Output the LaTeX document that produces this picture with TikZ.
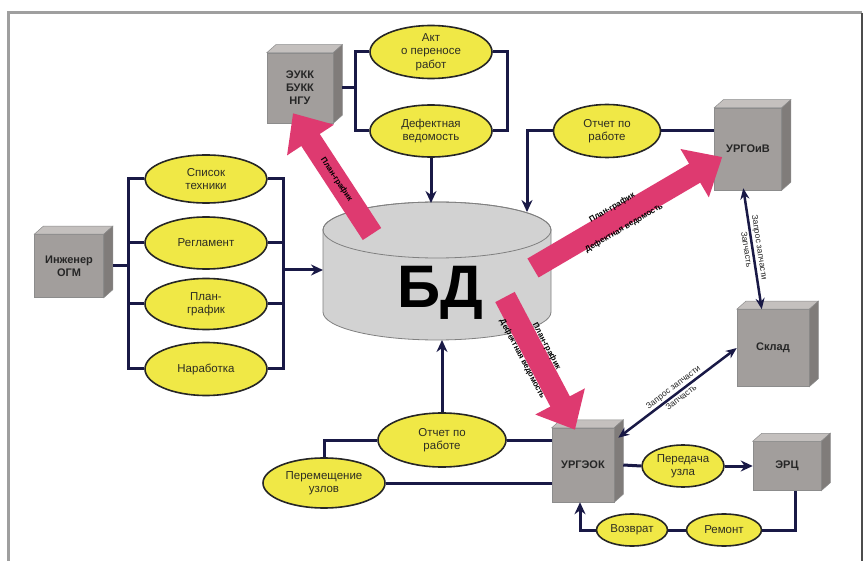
\documentclass[tikz,border=0pt]{standalone}
\usepackage{fontspec}
\setmainfont{Liberation Sans}
\usetikzlibrary{shapes.geometric,arrows.meta,calc}
\definecolor{ellfill}{RGB}{240,232,70}
\definecolor{navy}{RGB}{25,25,70}
\definecolor{boxfront}{RGB}{162,158,156}
\definecolor{boxtop}{RGB}{196,192,190}
\definecolor{boxside}{RGB}{128,124,122}
\definecolor{pinkA}{RGB}{222,58,112}
\definecolor{cylfill}{RGB}{210,210,210}
\definecolor{txt}{RGB}{45,45,35}
\newcommand\cubenode[6]{%
  \node[cube, minimum width=#4pt, minimum height=#5pt] (#1) at (#2,#3) {#6};
  \path[fill=boxtop, draw=black!45, line width=0.5pt] (#1.north west) -- ++(9,-8) -- ([shift={(9,-8)}]#1.north east) -- (#1.north east) -- cycle;
  \path[fill=boxside, draw=black!45, line width=0.5pt] (#1.north east) -- ++(9,-8) -- ([shift={(9,-8)}]#1.south east) -- (#1.south east) -- cycle;
}
\begin{document}
\begin{tikzpicture}[x=1pt,y=-1pt,
  ell/.style={ellipse, draw=black!85, line width=1.6pt, fill=ellfill, inner sep=0pt, align=center, font=\fontsize{11.5}{13.5}\selectfont, text=txt},
  cube/.style={rectangle, draw=black!45, line width=0.5pt, fill=boxfront, inner sep=0pt, align=center, font=\fontsize{11}{13}\selectfont\bfseries, text=black!85},
  conn/.style={draw=navy, line width=3pt, line join=miter},
  arr/.style={conn, -{Stealth[length=12pt,width=11pt]}},
  dbl/.style={draw=navy, line width=2.5pt, {Stealth[length=11pt,width=9pt]}-{Stealth[length=11pt,width=9pt]}},
  pinkarr/.style={draw=pinkA, line width=22pt, -{Triangle[length=32pt,width=54pt]}},
  plab/.style={font=\fontsize{8}{9}\selectfont\bfseries, sloped, inner sep=1pt, text=black},
  dlab/.style={font=\fontsize{8.5}{9}\selectfont, sloped, inner sep=1.5pt, text=black!85},
]
\useasboundingbox (0,0) rectangle (868,561);
\fill[white] (0,0) rectangle (868,561);
% frame
\draw[gray!75, line width=3pt] (8,561) -- (8,13) -- (862,13);
\draw[black!70, line width=2.5pt] (862,13) -- (862,561);

% cylinder
\path[fill=cylfill, draw=black!50, line width=0.8pt] (323,230) -- (323,312) arc[start angle=180,end angle=360,x radius=114pt,y radius=28pt] -- (551,230) arc[start angle=0,end angle=180,x radius=114pt,y radius=28pt] -- cycle;
\draw[black!50, line width=0.8pt] (437,230) ellipse[x radius=114pt, y radius=28pt];
\node[font=\fontsize{60}{60}\selectfont\bfseries, text=black, anchor=base, inner sep=0pt] (bd) at (440,308) {БД};
\coordinate (cylL) at (323,270);
\coordinate (cylT1) at (431,203);
\coordinate (cylT2) at (527,212);
\coordinate (cylB) at (442,340);
\coordinate (p1) at (372,234);
\coordinate (p2) at (533,268);
\coordinate (p3) at (505,297);

% ellipses
\node[ell, minimum width=122pt, minimum height=53pt] (akt) at (431,52) {Акт\\о переносе\\работ};
\node[ell, minimum width=122pt, minimum height=52pt] (defekt) at (431,131) {Дефектная\\ведомость};
\node[ell, minimum width=107pt, minimum height=53pt] (otchet1) at (607,131) {Отчет по\\работе};
\node[ell, minimum width=122pt, minimum height=48pt] (spisok) at (206,179) {Список\\техники};
\node[ell, minimum width=122pt, minimum height=52pt] (reglament) at (206,243) {Регламент};
\node[ell, minimum width=122pt, minimum height=51pt] (plan) at (206,304) {План-\\график};
\node[ell, minimum width=122pt, minimum height=53pt] (narab) at (206,369) {Наработка};
\node[ell, minimum width=128pt, minimum height=54pt] (otchet2) at (442,440) {Отчет по\\работе};
\node[ell, minimum width=122pt, minimum height=50pt] (perem) at (324,483) {Перемещение\\узлов};
\node[ell, minimum width=82pt, minimum height=42pt] (peredacha) at (683,466) {Передача\\узла};
\node[ell, minimum width=75pt, minimum height=32pt] (remont) at (724,530) {Ремонт};
\node[ell, minimum width=71pt, minimum height=32pt] (vozvrat) at (632,530) {Возврат};

% boxes
\cubenode{eukk}{300}{88}{66}{70}{ЭУКК\\БУКК\\НГУ}
\cubenode{ingener}{69}{266}{69}{63}{Инженер\\ОГМ}
\cubenode{urgoiv}{748}{149}{67}{82}{УРГОиВ}
\cubenode{sklad}{773}{348}{72}{77}{Склад}
\cubenode{urgeok}{583}{465}{62}{74}{УРГЭОК}
\cubenode{erc}{787}{466}{68}{49}{ЭРЦ}

% left buses
\coordinate (lbx) at (128,0);
\coordinate (rbx) at (283,0);
\draw[conn] (spisok.west) -- (spisok.west -| lbx) -- (narab.west -| lbx) -- (narab.west);
\draw[conn] (reglament.west) -- (reglament.west -| lbx);
\draw[conn] (plan.west) -- (plan.west -| lbx);
\draw[conn] ([xshift=9pt]ingener.east) -- (ingener.east -| lbx);
\draw[conn] (spisok.east) -- (spisok.east -| rbx) -- (narab.east -| rbx) -- (narab.east);
\draw[conn] (reglament.east) -- (reglament.east -| rbx);
\draw[conn] (plan.east) -- (plan.east -| rbx);
\draw[arr] (rbx |- cylL) -- (cylL);

% top group
\coordinate (tlx) at (355,0);
\coordinate (trx) at (507,0);
\draw[conn] ([xshift=9pt]eukk.east) -- (eukk.east -| tlx);
\draw[conn] (akt.west) -- (akt.west -| tlx) -- (defekt.west -| tlx) -- (defekt.west);
\draw[conn] (akt.east) -- (akt.east -| trx) -- (defekt.east -| trx) -- (defekt.east);
\draw[arr] (defekt.south) -- (cylT1);

% top right
\draw[conn] (otchet1.east) -- (urgoiv.west |- otchet1.east);
\draw[arr] (otchet1.west) -| (cylT2);

% bottom
\draw[conn] (otchet2.east) -- (urgeok.west |- otchet2.east);
\draw[conn] (otchet2.west) -| (perem.north);
\draw[conn] (perem.east) -- (urgeok.west |- perem.east);
\draw[arr] (otchet2.north) -- (cylB);
\draw[conn] ([xshift=9pt]urgeok.east) -- (peredacha.west);
\draw[arr] (peredacha.east) -- (erc.west);
\draw[conn] ([xshift=8pt]erc.south) -- ([xshift=8pt]erc.south |- remont.east) -- (remont.east);
\draw[conn] (remont.west) -- (vozvrat.east);
\draw[arr] (vozvrat.west) -| ([xshift=-3pt]urgeok.south);

% double arrows
\draw[dbl] ([shift={(4,10)}]urgeok.north east) -- node[dlab, above]{Запрос запчасти} node[dlab, below]{Запчасть} (sklad.west);
\draw[dbl] ([shift={(29,-2)}]urgoiv.south west) -- node[dlab, above]{Запрос запчасти} node[dlab, below]{Запчасть} ([shift={(25,0)}]sklad.north west);

% pink arrows
\draw[pinkarr] (p1) -- node[plab, pos=0.45]{План-график} ([shift={(-7,-10)}]eukk.south);
\draw[pinkarr] (p2) -- node[plab, above=-4pt, pos=0.45]{План-график} node[plab, below=-4pt, pos=0.45]{Дефектная ведомость} ([shift={(8,8)}]urgoiv.west);
\draw[pinkarr] (p3) -- node[plab, above=-2pt, pos=0.42]{План-график} node[plab, below=-2pt, pos=0.42]{Дефектная ведомость} ([shift={(-8,2)}]urgeok.north);
\end{tikzpicture}
\end{document}
